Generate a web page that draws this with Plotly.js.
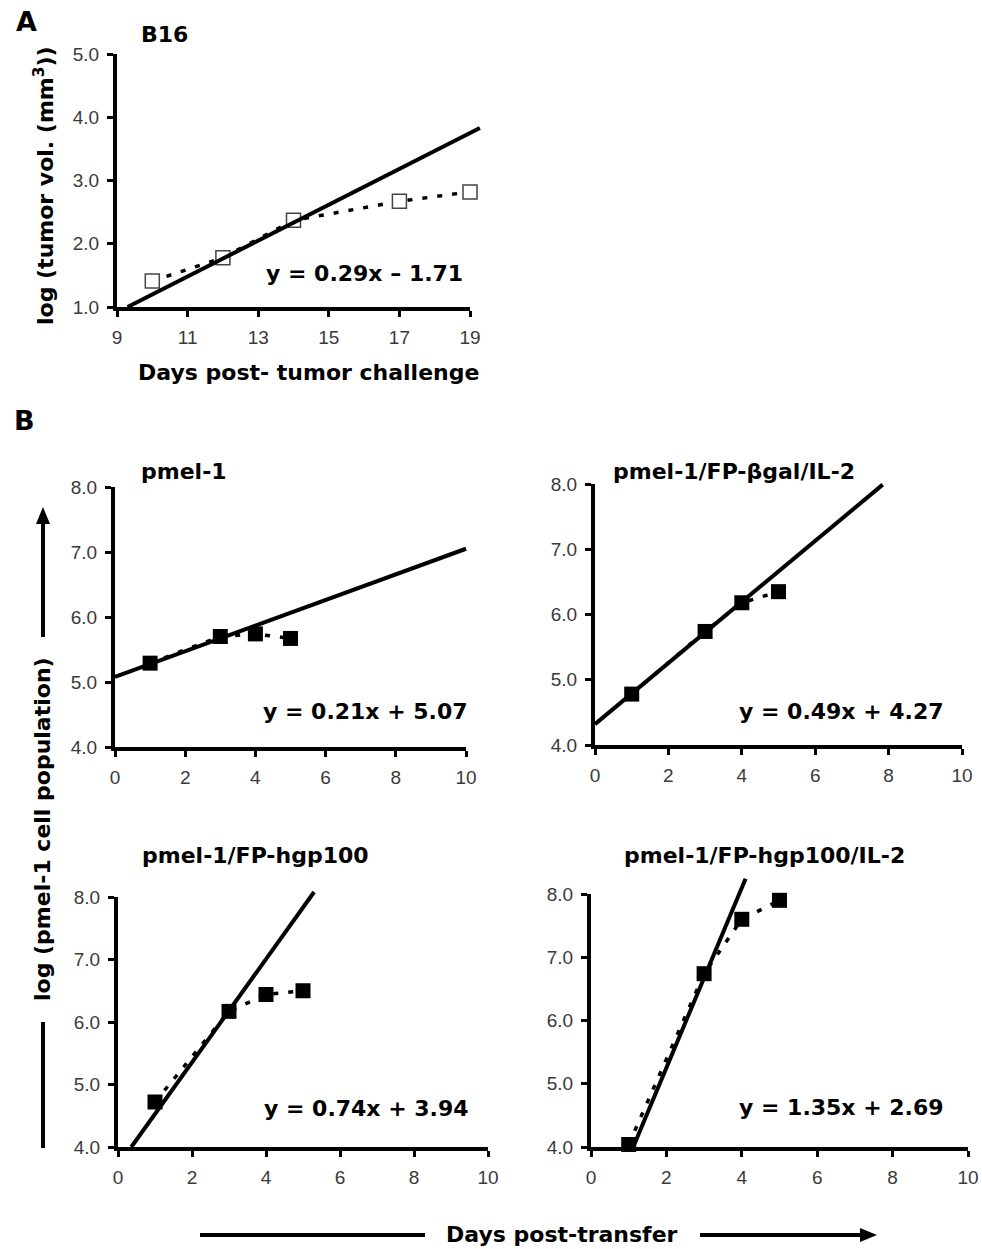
<!DOCTYPE html>
<html><head><meta charset="utf-8">
<script src="https://cdn.plot.ly/plotly-3.0.1.min.js"></script>
<style>html,body{margin:0;padding:0;background:#fff;} #chart{width:982px;height:1249px;}</style>
</head><body><div id="chart"></div>
<script>
// ---------------- DATA ----------------
const titleA = 'B16';
const daysA = [10, 12, 14, 17, 19];
const logTumorVolA = [1.41, 1.78, 2.37, 2.67, 2.82];
const fitDaysA = [9.3, 19.28];
const fitLogVolA = [1.0, 3.83];
const equationA = 'y = 0.29x \u2013 1.71';
const xTicksA = [9, 11, 13, 15, 17, 19];
const yTicksA = [1, 2, 3, 4, 5];

const titlesB = ['pmel-1', 'pmel-1/FP-\u03b2gal/IL-2', 'pmel-1/FP-hgp100', 'pmel-1/FP-hgp100/IL-2'];
const daysB = [1, 3, 4, 5];
const logCellsPmel1 = [5.29, 5.70, 5.74, 5.67];
const logCellsBgalIL2 = [4.78, 5.74, 6.18, 6.35];
const logCellsHgp100 = [4.72, 6.17, 6.44, 6.50];
const logCellsHgp100IL2 = [4.04, 6.74, 7.60, 7.90];
const fitDaysPmel1 = [0, 10];       const fitLogPmel1 = [5.08, 7.05];
const fitDaysBgalIL2 = [0, 7.84];   const fitLogBgalIL2 = [4.32, 7.99];
const fitDaysHgp100 = [0.36, 5.3];  const fitLogHgp100 = [4.0, 8.08];
const fitDaysHgp100IL2 = [1.12, 4.1]; const fitLogHgp100IL2 = [4.0, 8.24];
const equationsB = ['y = 0.21x + 5.07', 'y = 0.49x + 4.27', 'y = 0.74x + 3.94', 'y = 1.35x + 2.69'];
const xTicksB = [0, 2, 4, 6, 8, 10];
const yTicksB = [4, 5, 6, 7, 8];

const xTitleA = 'Days post- tumor challenge';
const yTitleA = 'log (tumor vol. (mm<sup>3</sup>))';
const xTitleB = 'Days post-transfer';
const yTitleB = 'log (pmel-1 cell population)';

// ---------------- LAYOUT GEOMETRY ----------------
const W = 982, H = 1249;
const fx = p => p / W;
const fy = p => 1 - p / H;

const panels = [
  {px: [117, 470], py: [54, 307],   xr: [9, 19], yr: [1, 5], xt: xTicksA, yt: yTicksA,
   x: daysA, y: logTumorVolA, fx_: fitDaysA, fy_: fitLogVolA, open: true},
  {px: [115, 466], py: [487, 747],  xr: [0, 10], yr: [4, 8], xt: xTicksB, yt: yTicksB,
   x: daysB, y: logCellsPmel1, fx_: fitDaysPmel1, fy_: fitLogPmel1},
  {px: [595, 962], py: [484, 745],  xr: [0, 10], yr: [4, 8], xt: xTicksB, yt: yTicksB,
   x: daysB, y: logCellsBgalIL2, fx_: fitDaysBgalIL2, fy_: fitLogBgalIL2},
  {px: [118, 488], py: [897, 1147], xr: [0, 10], yr: [4, 8], xt: xTicksB, yt: yTicksB,
   x: daysB, y: logCellsHgp100, fx_: fitDaysHgp100, fy_: fitLogHgp100},
  {px: [591, 968], py: [894, 1147], xr: [0, 10], yr: [4, 8], xt: xTicksB, yt: yTicksB,
   x: daysB, y: logCellsHgp100IL2, fx_: fitDaysHgp100IL2, fy_: fitLogHgp100IL2}
];

const layout = {
  width: W, height: H, autosize: false,
  margin: {l: 0, r: 0, t: 0, b: 0, pad: 0},
  paper_bgcolor: '#fff', plot_bgcolor: 'rgba(0,0,0,0)',
  showlegend: false,
  annotations: [], shapes: []
};
const traces = [];
const EX = 14, EY = 25;
const tickFont = {family: 'Liberation Sans, Arial, sans-serif', size: 19, color: '#3a3a3a'};

panels.forEach((p, i) => {
  const s = i === 0 ? '' : String(i + 1);
  const h = String(i + 6);
  layout['xaxis' + s] = {
    domain: [fx(p.px[0]), fx(p.px[1])], range: p.xr, anchor: 'y' + s,
    showline: true, linecolor: '#000', linewidth: 4,
    ticks: 'outside', ticklen: 6, tickwidth: 3, tickcolor: '#000',
    ticklabelstandoff: 4,
    tickmode: 'array', tickvals: p.xt, tickfont: tickFont,
    showgrid: false, zeroline: false, fixedrange: true
  };
  layout['yaxis' + s] = {
    domain: [fy(p.py[1]), fy(p.py[0])], range: p.yr, anchor: 'x' + s,
    showline: true, linecolor: '#000', linewidth: 4,
    ticks: 'outside', ticklen: 6, tickwidth: 3, tickcolor: '#000',
    ticklabelstandoff: 4,
    tickmode: 'array', tickvals: p.yt, tickformat: '.1f', tickfont: tickFont,
    showgrid: false, zeroline: false, fixedrange: true
  };
  // hidden companion subplot with the same scale but a slightly larger area,
  // so the regression lines can run a little past the axis ends as in the figure
  const sx = (p.xr[1] - p.xr[0]) / (p.px[1] - p.px[0]);
  const sy = (p.yr[1] - p.yr[0]) / (p.py[1] - p.py[0]);
  const ex = Math.min(EX, W - p.px[1]);
  layout['xaxis' + h] = {
    domain: [fx(p.px[0] - EX), fx(p.px[1] + ex)],
    range: [p.xr[0] - EX * sx, p.xr[1] + ex * sx], anchor: 'y' + h,
    visible: false, fixedrange: true
  };
  layout['yaxis' + h] = {
    domain: [fy(p.py[1] + EY), fy(p.py[0] - EY)],
    range: [p.yr[0] - EY * sy, p.yr[1] + EY * sy], anchor: 'x' + h,
    visible: false, fixedrange: true
  };
  traces.push({
    x: p.x, y: p.y, xaxis: 'x' + s, yaxis: 'y' + s, type: 'scatter',
    mode: 'lines+markers', cliponaxis: false,
    line: {color: '#000', width: 3.5, dash: '5px,10px'},
    marker: p.open
      ? {symbol: 'square', size: 14, color: '#fff', line: {color: '#444', width: 1.5}}
      : {symbol: 'square', size: 15, color: '#000', line: {width: 0}},
    hoverinfo: 'skip'
  });
  traces.push({
    x: p.fx_, y: p.fy_, xaxis: 'x' + h, yaxis: 'y' + h, type: 'scatter',
    mode: 'lines', line: {color: '#000', width: 4}, hoverinfo: 'skip'
  });
});

const bold = (t, size, cx, cy, angle) => ({
  text: '<b>' + t + '</b>', xref: 'paper', yref: 'paper',
  x: fx(cx), y: fy(cy), xanchor: 'center', yanchor: 'middle',
  showarrow: false, textangle: angle || 0,
  font: {family: 'DejaVu Sans, sans-serif', size: size, color: '#000'}
});

layout.annotations.push(
  bold('A', 27, 26, 22),
  bold('B', 27, 24, 421),
  bold(titleA, 22, 164, 35),
  bold(equationA, 22, 364, 273),
  bold(xTitleA, 22, 308, 372),
  bold(yTitleA, 22, 44, 186, -90),
  bold(titlesB[0], 22, 184, 472),
  bold(titlesB[1], 22, 734, 472),
  bold(titlesB[2], 22, 256, 855),
  bold(titlesB[3], 22, 764, 856),
  bold(equationsB[0], 22, 365, 711),
  bold(equationsB[1], 22, 841, 711),
  bold(equationsB[2], 22, 366, 1108),
  bold(equationsB[3], 22, 841, 1107),
  bold(yTitleB, 22, 43, 829, -90),
  bold(xTitleB, 22, 562, 1234)
);

const seg = (x0, y0, x1, y1) => ({
  type: 'line', xref: 'paper', yref: 'paper',
  x0: fx(x0), y0: fy(y0), x1: fx(x1), y1: fy(y1),
  line: {color: '#000', width: 4}
});
const tri = pts => ({
  type: 'path', xref: 'paper', yref: 'paper',
  path: 'M' + pts.map(q => fx(q[0]) + ',' + fy(q[1])).join(' L') + ' Z',
  fillcolor: '#000', line: {width: 0}
});
layout.shapes.push(
  seg(43, 637, 43, 522),
  tri([[36, 524], [43, 507], [50, 524]]),
  seg(43, 1022, 43, 1148),
  seg(200, 1235, 425, 1235),
  seg(700, 1235, 862, 1235),
  tri([[860, 1228], [877, 1235], [860, 1242]])
);

Plotly.newPlot('chart', traces, layout, {staticPlot: true, displayModeBar: false});
</script>
</body></html>
